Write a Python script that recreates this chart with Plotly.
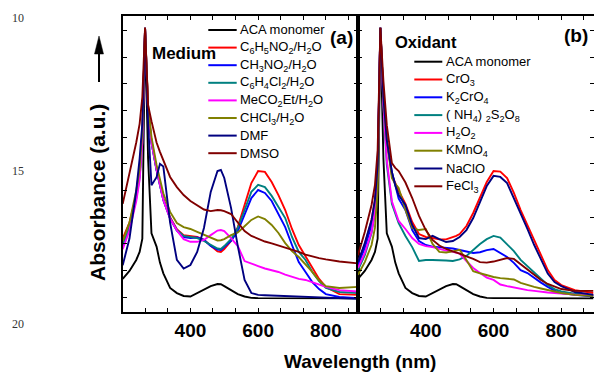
import plotly.graph_objects as go

W, H = 594, 376

# ---------------- data (wavelength in nm, absorbance in a.u.) ----------------
WL = [200, 220, 240, 250, 258, 266, 275, 285, 300, 310, 320, 340, 360, 380, 400,
      420, 440, 460, 480, 490, 500, 520, 540, 560, 580, 600, 620, 640, 660, 680,
      700, 720, 740, 760, 780, 800, 840, 895]

# panel (a) Medium
ACA = [6.9, 9.9, 14.0, 17.0, 22.0, 101, 52, 24, 19, 13, 9, 3.5, 1.6, 0.5, 0.3,
       1.6, 2.9, 4.2, 5.0, 4.9, 4.2, 2.7, 1.2, 0.3, -0.2, -0.3, -0.3, -0.3, -0.4, -0.4,
       -0.4, -0.4, -0.4, -0.4, -0.4, -0.4, -0.4, -0.4]
C6H5NO2 = [22, 28, 38, 47, 62, 101, 71, 59, 48, 42, 37, 30, 25.5, 23.3, 23.0,
           22.6, 21.5, 19.2, 17.2, 17.0, 18.1, 21.1, 26.3, 34.6, 42.8, 47.3, 47.0, 43.2, 38.3, 32.7,
           25.6, 19.6, 15.5, 11.0, 6.9, 3.9, 1.2, 0.9]
CH3NO2 = [19, 26, 38, 46, 60, 101, 70, 58, 47.7, 41.5, 36.5, 29.5, 25, 22.6, 22.2,
          22.4, 21.5, 19.2, 17.9, 17.7, 18.8, 21.1, 24.8, 31.2, 37.2, 40.2, 39.1, 36.1, 31.2, 26.3,
          19.6, 13.2, 9.5, 5.7, 3.1, 1.2, 0.1, -0.3]
C6H4Cl2 = [20, 26, 37, 45, 58, 101, 70, 58, 47.7, 41.5, 36.5, 29.7, 25.2, 23, 22.6,
           22.2, 21.1, 19.6, 18.3, 18.1, 19.2, 21.8, 26.0, 32.7, 39.5, 42.1, 41.3, 38.0, 33.8, 29.7,
           22.6, 17.0, 14.0, 9.5, 6.1, 3.5, 2.0, 1.6]
MECO2ET = [18, 25, 36, 44, 58, 101, 70, 58, 48, 42, 36.5, 29.5, 25, 21.8, 20.8,
           20.8, 21.5, 23.3, 25.0, 25.2, 24.8, 22.2, 19.2, 13.6, 12.5, 11.7, 10.8, 10.2, 9.5, 8.5,
           7.6, 6.9, 6.5, 5.7, 4.8, 3.9, 2.7, 2.2]
CHCL3 = [21, 28, 40, 48, 62, 101, 72, 60, 49.6, 44, 39, 32, 27.8, 26.3, 25.6,
         24.5, 23.5, 22.4, 21.3, 21.4, 21.8, 23.3, 24.3, 26.6, 29.0, 30.3, 29.3, 27.1, 24.1, 20.3,
         17.3, 15.1, 12.5, 9.5, 6.3, 4.2, 3.5, 3.9]
DMF = [12, 22, 40, 52, 65, 100, 65, 42, 45, 50, 49, 28, 14, 10.8, 12.1,
       17.0, 26.0, 39.5, 47.3, 47.7, 44.7, 33.5, 19.2, 6.5, 1.6, 0.9, 0.8, 0.7, 0.7, 0.6,
       0.5, 0.4, 0.3, 0.2, 0.1, 0.1, -0.2, -0.6]
DMSO = [35, 46, 58, 65, 75, 101, 72, 66, 58, 54.5, 51.4, 45.1, 41.3, 38.3, 36.1,
        34.6, 32.9, 32.3, 32.7, 32.6, 32.3, 31.2, 27.8, 24.8, 23.0, 21.8, 20.9, 20.2, 19.4, 18.7,
        17.7, 17.0, 16.0, 15.3, 14.7, 14.2, 13.4, 12.7]

# panel (b) Oxidant
CRO3 = [13.2, 19.6, 29, 36.5, 47.7, 101, 75, 58.9, 45.8, 42.5, 39.9, 35, 28.2, 23.7, 22.6,
        22.2, 21.7, 21.7, 22.4, 23.0, 23.7, 26.7, 31.6, 37.2, 43.2, 47.3, 47.1, 44.7, 39.1, 32.7,
        27.1, 21.1, 15.5, 10.2, 6.5, 4.6, 2.7, 1.6]
K2CRO4 = [12.1, 18.5, 27.1, 34.6, 47.7, 101, 75, 58, 47, 41.5, 37, 32.7, 25.2, 21.1, 19.6,
          19.0, 18.8, 18.7, 18.3, 18.0, 17.7, 17.3, 16.6, 16.9, 17.7, 18.1, 16.6, 15.1, 12.9, 10.2,
          9.1, 7.2, 5.5, 3.9, 2.5, 1.6, 0.9, 0.3]
NH4_2S2O8 = [10.2, 15.8, 24.1, 32, 44.7, 101, 72, 49.6, 35, 31, 27.8, 23, 18.8, 13.6, 14.0,
             14.0, 14.0, 13.8, 13.6, 13.9, 14.2, 15.5, 17.7, 20, 21.8, 23, 22.4, 20, 17.3, 14.0,
             11.7, 9.1, 6.9, 4.6, 3.1, 2.2, 1.4, 0.9]
H2O2 = [11.0, 16.6, 24.5, 32, 45.8, 101, 72, 51.4, 36, 32, 28.6, 25.6, 22.2, 20, 19.2,
        18.8, 18.1, 17.5, 17.0, 16.8, 16.4, 13.6, 11.0, 9.1, 7.4, 6.5, 4.8, 4.2, 3.7, 3.1,
        2.7, 2.4, 2.0, 1.8, 1.6, 1.4, 1.0, 0.9]
KMNO4 = [8.4, 13.2, 19.6, 26, 40.2, 101, 75, 58.9, 44.7, 42.5, 41.0, 32.7, 26, 25.2, 25.6,
         20, 17, 16.8, 17.2, 17.5, 17.8, 14, 9.8, 9.0, 8.3, 7.6, 7.2, 7.0, 6.7, 5.4,
         4.6, 3.9, 3.3, 2.7, 2.2, 1.6, 0.9, 0.5]
NACLO = [13.2, 20.3, 29, 36.5, 49.6, 101, 75, 58.9, 47, 42, 38.3, 34.6, 27.1, 22.2, 21.8,
         23, 21.8, 20.7, 21.1, 21.8, 22.6, 25.2, 29.7, 35.7, 41.7, 45.5, 45.1, 42.8, 37.2, 31.2,
         25.6, 19.6, 14.0, 8.9, 5.7, 4.2, 2.0, 0.9]
FECL3 = [15.8, 24.5, 34.6, 42, 55, 101, 81, 64.5, 50.3, 48.5, 47.3, 43, 37.2, 30.5, 25.2,
         21.5, 19.4, 18.1, 17.2, 16.8, 16.4, 15.3, 14.4, 13.2, 13.0, 13.4, 14.0, 14.7, 14.4, 12.5,
         10.6, 8.4, 6.5, 5.0, 3.9, 3.1, 2.4, 2.4]

MEDIUM_NAMES = ["ACA monomer", "C<sub>6</sub>H<sub>5</sub>NO<sub>2</sub>/H<sub>2</sub>O",
                "CH<sub>3</sub>NO<sub>2</sub>/H<sub>2</sub>O", "C<sub>6</sub>H<sub>4</sub>Cl<sub>2</sub>/H<sub>2</sub>O",
                "MeCO<sub>2</sub>Et/H<sub>2</sub>O", "CHCl<sub>3</sub>/H<sub>2</sub>O", "DMF", "DMSO"]
MEDIUM_VALUES = [ACA, C6H5NO2, CH3NO2, C6H4Cl2, MECO2ET, CHCL3, DMF, DMSO]
OXIDANT_NAMES = ["ACA monomer", "CrO<sub>3</sub>", "K<sub>2</sub>CrO<sub>4</sub>",
                 "( NH<sub>4</sub>) <sub>2</sub>S<sub>2</sub>O<sub>8</sub>", "H<sub>2</sub>O<sub>2</sub>",
                 "KMnO<sub>4</sub>", "NaClO", "FeCl<sub>3</sub>"]
OXIDANT_VALUES = [ACA, CRO3, K2CRO4, NH4_2S2O8, H2O2, KMNO4, NACLO, FECL3]

X_TICK_VALS = [400, 600, 800]
X_TICK_LABELS = ["400", "600", "800"]
X_MINOR_VALS = [266.67, 333.33, 466.67, 533.33, 666.67, 733.33, 866.67]
Y_TICK_VALS = [0, 10, 20, 30, 40, 50, 60, 70, 80, 90, 100]

COLORS = ["#000000", "#ff0000", "#0000ff", "#008080", "#ff00ff", "#808000", "#000080", "#800000"]

# ---------------- figure ----------------
def px(x):
    return x / W

def py(y):
    return 1 - y / H

FONT = "Liberation Sans, Arial, sans-serif"
fig = go.Figure()

for names, vals, xa, ya in [(MEDIUM_NAMES, MEDIUM_VALUES, "x", "y"),
                            (OXIDANT_NAMES, OXIDANT_VALUES, "x2", "y2")]:
    for name, v, c in zip(names, vals, COLORS):
        fig.add_trace(go.Scatter(x=WL, y=v, mode="lines", name=name, xaxis=xa, yaxis=ya,
                                 line=dict(color=c, width=1.9), showlegend=False))

xcommon = dict(range=[200, 895], showline=True, linecolor="black", linewidth=1.6,
               mirror="ticks", ticks="inside", ticklen=4, tickwidth=1.3, tickcolor="black",
               showgrid=False, zeroline=False, tickvals=X_TICK_VALS, ticktext=X_TICK_LABELS,
               minor=dict(tickvals=X_MINOR_VALS, ticks="inside", ticklen=4, tickwidth=1.3,
                          tickcolor="black", showgrid=False),
               tickfont=dict(family=FONT, size=19, color="black", weight="bold"))
ycommon = dict(range=[-5.5, 105.5], showline=True, linecolor="black", linewidth=1.6,
               mirror="ticks", ticks="inside", ticklen=4, tickwidth=1.3, tickcolor="black",
               showgrid=False, zeroline=False, tickvals=Y_TICK_VALS, showticklabels=False)

ydom = [py(312), py(15.7)]
fig.update_layout(
    width=W, height=H, margin=dict(l=0, r=0, t=0, b=0),
    paper_bgcolor="white", plot_bgcolor="white",
    xaxis=dict(domain=[px(122.7), px(358)], anchor="y", **xcommon),
    yaxis=dict(domain=ydom, anchor="x", **ycommon),
    xaxis2=dict(domain=[px(358), px(593.5)], anchor="y2", **xcommon),
    yaxis2=dict(domain=ydom, anchor="x2", **ycommon),
    showlegend=False,
)

ann = []
shapes = []

def text(x, y, s, size, bold=False, xanchor="left", family=FONT, color="black", angle=0):
    ann.append(dict(x=px(x), y=py(y), xref="paper", yref="paper", text=s, showarrow=False,
                    xanchor=xanchor, yanchor="middle", textangle=angle,
                    font=dict(family=family, size=size, color=color,
                              weight="bold" if bold else "normal")))

# legends drawn as line samples + text
for names, x0, x1, y0, dy in [(MEDIUM_NAMES, 208.3, 236.7, 30, 17.6),
                              (OXIDANT_NAMES, 414.3, 442.3, 61.7, 17.8)]:
    for i, (name, c) in enumerate(zip(names, COLORS)):
        yy = y0 + i * dy
        shapes.append(dict(type="line", xref="paper", yref="paper", x0=px(x0), x1=px(x1),
                           y0=py(yy), y1=py(yy), line=dict(color=c, width=2)))
        text(x1 + 1.5, yy, name, 13)

text(150, 53, "Medium", 17, bold=True)
text(355, 37, "(a)", 19, bold=True, xanchor="right")
text(393, 42, "Oxidant", 16.5, bold=True)
text(590, 35, "(b)", 19, bold=True, xanchor="right")

text(360, 361, "Wavelength (nm)", 19, bold=True, xanchor="center")
text(97, 193, "Absorbance (a.u.)", 21, bold=True, xanchor="center", angle=-90)

# arrow next to the y title (shaft + head)
shapes.append(dict(type="line", xref="paper", yref="paper", x0=px(99), x1=px(99),
                   y0=py(82), y1=py(50), line=dict(color="black", width=2)))
shapes.append(dict(type="path", xref="paper", yref="paper",
                   path=f"M {px(94.5)} {py(54)} L {px(103.5)} {py(54)} L {px(99)} {py(36)} Z",
                   fillcolor="black", line=dict(color="black", width=0.5)))

# manuscript line numbers
for s, yy in [("10", 17.5), ("15", 171), ("20", 324)]:
    text(18, yy, s, 12, xanchor="center", family="Liberation Serif, Times New Roman, serif",
         color="#333333")

fig.update_layout(annotations=ann, shapes=shapes)
fig.write_html("out.html", config={"displayModeBar": False},
               post_script="document.body.style.margin='0';")
